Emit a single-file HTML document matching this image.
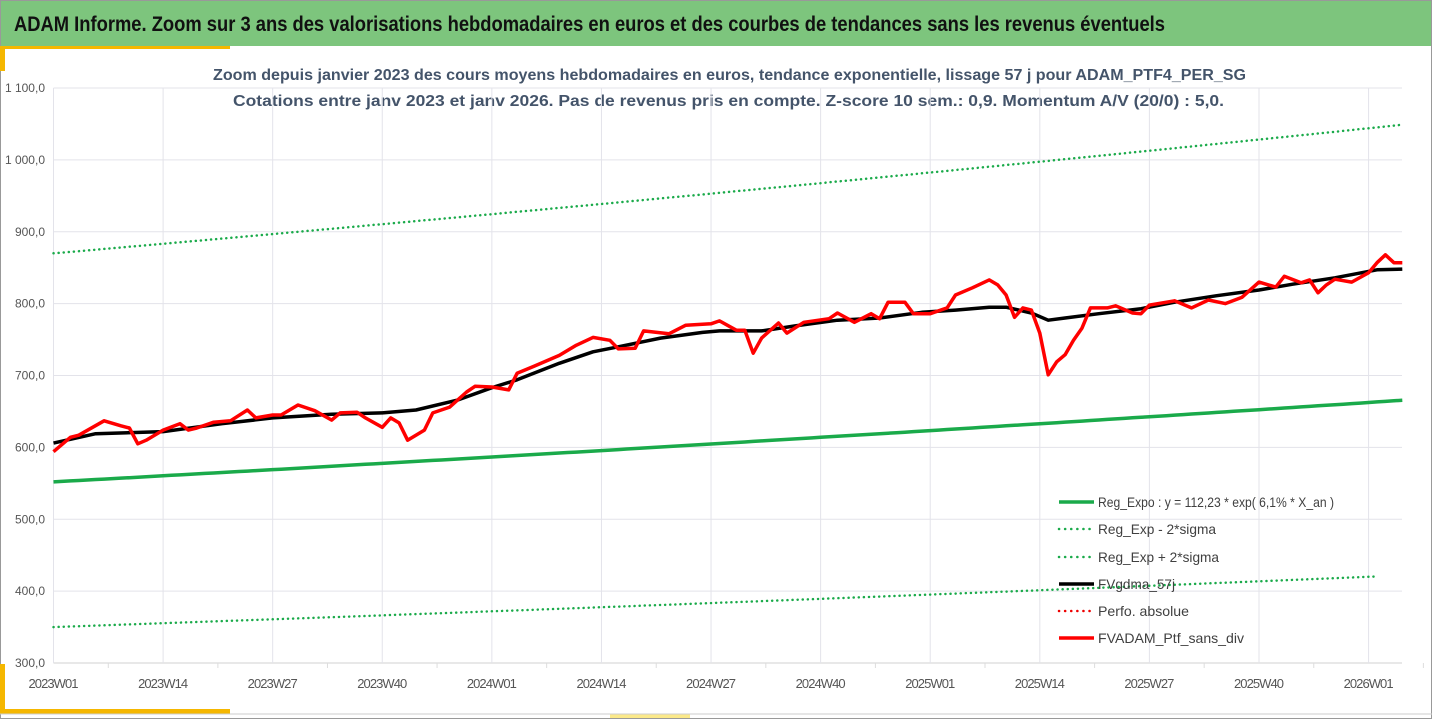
<!DOCTYPE html>
<html><head><meta charset="utf-8"><style>
html,body{margin:0;padding:0;background:#fff;}
body{width:1432px;height:719px;overflow:hidden;position:relative;font-family:"Liberation Sans",sans-serif;}
svg text{font-family:"Liberation Sans",sans-serif;}
</style></head><body>
<svg id="c" width="1432" height="719" xmlns="http://www.w3.org/2000/svg">
<rect x="0.5" y="0.5" width="1431" height="718" fill="#fff" stroke="#999"/>
<rect x="1" y="1" width="1430" height="45" fill="#7dc57d"/>
<rect x="0" y="46" width="230" height="3" fill="#f5b700"/>
<rect x="0" y="46" width="5" height="25" fill="#f5b700"/>
<rect x="0" y="664" width="5" height="50" fill="#f5b700"/>
<rect x="0" y="709" width="230" height="5" fill="#f5b700"/>
<rect x="610" y="714" width="80" height="4" fill="#fbe98a"/>
<line x1="0" y1="714" x2="1432" y2="714" stroke="#ccc"/>
<text x="14" y="31" font-size="21" font-weight="bold" fill="#111" textLength="1151" lengthAdjust="spacingAndGlyphs">ADAM Informe. Zoom sur 3 ans des valorisations hebdomadaires en euros et des courbes de tendances sans les revenus éventuels</text>
<text x="213" y="80" font-size="15.5" font-weight="bold" fill="#44546a" textLength="1033" lengthAdjust="spacingAndGlyphs">Zoom depuis janvier 2023 des cours moyens hebdomadaires  en euros, tendance exponentielle, lissage 57 j pour ADAM_PTF4_PER_SG</text>
<text x="233" y="106" font-size="15.5" font-weight="bold" fill="#44546a" textLength="991" lengthAdjust="spacingAndGlyphs">Cotations entre janv 2023 et janv 2026. Pas de revenus pris en compte. Z-score 10 sem.: 0,9. Momentum A/V (20/0) : 5,0.</text>
<g id="grid"></g><g id="series"></g><g id="legend"></g>
</svg>
<script>
const yTicks=[300,400,500,600,700,800,900,1000,1100];
const xTickLabels=["2023W01","2023W14","2023W27","2023W40","2024W01","2024W14","2024W27","2024W40","2025W01","2025W14","2025W27","2025W40","2026W01"];
const xTickWeeks=[0,13,26,39,52,65,78,91,104,117,130,143,156];
const redWeeks=[0,2,3,6,8,9,10,11,13,15,16,17,19,21,23,24,26,27,29,31,33,34,36,37,39,40,41,42,44,45,47,49,50,52,54,55,57,60,62,64,66,67,69,70,73,75,78,79,81,82,83,84,86,87,89,92,93,95,97,98,99,101,102,104,106,107,109,111,112,113,114,115,116,117,118,119,120,121,122,123,125,126,128,129,130,133,135,137,139,141,143,145,146,148,149,150,151,152,154,156,157,158,159,160];
const redValues=[594,614,617,637,630,627,605,610,624,633,624,627,635,637,652,641,645,645,659,651,638,648,649,641,628,641,634,610,624,648,656,677,685,684,680,703,713,728,742,753,749,737,738,762,758,770,772,776,763,763,731,752,773,759,774,779,787,774,786,779,802,802,786,786,794,812,822,833,826,812,781,794,791,759,701,719,729,749,766,794,794,797,787,786,798,804,794,805,800,809,830,823,838,829,833,815,826,834,830,843,857,868,857,857];
const blackWeeks=[0,5,13,20,26,33,39,43,48,52,55,60,64,67,72,77,79,84,88,93,98,103,107,111,113,116,118,120,124,129,133,138,143,147,152,157,160];
const blackValues=[606,619,622,633,641,646,648,652,666,683,694,717,733,740,752,760,762,762,769,777,780,788,791,795,795,787,777,780,786,793,802,811,819,827,836,847,848];
const regStart=552, regRate=0.061, sigmaUp=1.576, sigmaDown=0.634;
const regLastWeek=160, lowLastWeek=157;

const X0=53.5, WPX=8.43, Y0=663, YPX=0.71875;
const xs=w=>X0+w*WPX;
const ys=v=>Y0-(v-300)*YPX;
const NS="http://www.w3.org/2000/svg";
function mk(t,a,p){const e=document.createElementNS(NS,t);for(const k in a)e.setAttribute(k,a[k]);p.appendChild(e);return e;}
const grid=document.getElementById('grid'),ser=document.getElementById('series'),leg=document.getElementById('legend');
yTicks.forEach(v=>{
  const l=mk('line',{x1:X0,x2:1402,y1:ys(v),y2:ys(v),stroke:v===300?'#d0d0d0':'#e3e3ea','stroke-width':1},grid);
  
  
  const t=mk('text',{x:45,y:ys(v)+4,'font-size':12,fill:'#555','text-anchor':'end'},grid);
  t.textContent=(v>=1000?'1 '+String(v).slice(1):String(v))+',0';
  
  
});
xTickWeeks.forEach((w,i)=>{
  const l=mk('line',{x1:xs(w),x2:xs(w),y1:ys(1100),y2:ys(300),stroke:'#e3e3ea','stroke-width':1},grid);
  
  
  const m=mk('line',{x1:xs(w+6.5),x2:xs(w+6.5),y1:ys(300),y2:ys(300)+5,stroke:'#ddd'},grid);
  
  
  const t=mk('text',{x:xs(w),y:688,'font-size':13,fill:'#555','text-anchor':'middle','textLength':50},grid);
  t.textContent=xTickLabels[i];
  
  
});
function reg(w){return regStart*Math.exp(regRate*w/52.18);}
function curve(f,last){let d='';for(let w=0;w<=last;w+=1)d+=(w?'L':'M')+xs(w).toFixed(1)+','+ys(f(w)).toFixed(1);return d;}
const up=mk('path',{d:curve(w=>reg(w)*sigmaUp,regLastWeek),fill:'none',stroke:'#1aaa4a','stroke-width':2.5,'stroke-dasharray':'0.1 5','stroke-linecap':'round'},ser);


const lo=mk('path',{d:curve(w=>reg(w)*sigmaDown,lowLastWeek),fill:'none',stroke:'#1aaa4a','stroke-width':2.5,'stroke-dasharray':'0.1 5','stroke-linecap':'round'},ser);


const rg=mk('path',{d:curve(reg,regLastWeek),fill:'none',stroke:'#1aaa4a','stroke-width':3.5},ser);


function poly(ws,vs){return ws.map((w,i)=>(i?'L':'M')+xs(w).toFixed(1)+','+ys(vs[i]).toFixed(1)).join('');}
const bl=mk('path',{d:poly(blackWeeks,blackValues),fill:'none',stroke:'#000','stroke-width':3.5,'stroke-linejoin':'round'},ser);


const rd=mk('path',{d:poly(redWeeks,redValues),fill:'none',stroke:'#f00','stroke-width':3.5,'stroke-linejoin':'round'},ser);


const legItems=[["Reg_Expo : y = 112,23 * exp( 6,1% *  X_an )",'#1aaa4a','solid','legend-reg-expo',236],["Reg_Exp - 2*sigma",'#1aaa4a','dot','legend-reg-minus',118],["Reg_Exp + 2*sigma",'#1aaa4a','dot','legend-reg-plus',121],["FVgdma_57j",'#000','solid','legend-fvgdma',77],["Perfo. absolue",'#e00','dot','legend-perfo-absolue',91],["FVADAM_Ptf_sans_div",'#f00','solid','legend-fvadam',146]];
const legY=[502,529,557,584,611,638];
legItems.forEach((it,i)=>{
  const g=mk('g',{},leg);
  
  
  const y=legY[i];
  if(it[2]==='solid')mk('line',{x1:1059,x2:1094,y1:y,y2:y,stroke:it[1],'stroke-width':3.5},g);
  else mk('line',{x1:1059,x2:1094,y1:y,y2:y,stroke:it[1],'stroke-width':2.5,'stroke-dasharray':'0.1 6','stroke-linecap':'round'},g);
  const t=mk('text',{x:1098,y:y+5,'font-size':14,fill:'#404040',textLength:it[4],lengthAdjust:'spacingAndGlyphs'},g);
  t.textContent=it[0];
});
</script>
</body></html>
